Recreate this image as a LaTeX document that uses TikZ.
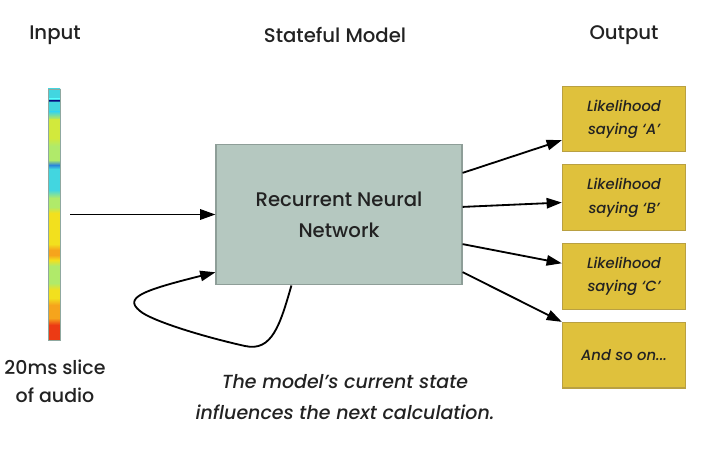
\documentclass[tikz,border=0pt]{standalone}
\usepackage{fontspec}
\setmainfont{Poppins}[UprightFont={* Medium}, ItalicFont={* Medium Italic}]
\usepackage{tikz}
\usetikzlibrary{arrows.meta, positioning, calc}

\definecolor{rnnfill}{HTML}{B5C8C0}
\definecolor{rnnline}{HTML}{8E9E98}
\definecolor{outfill}{HTML}{DFC13C}
\definecolor{outline}{HTML}{B9A042}
\definecolor{txtcol}{HTML}{222222}
\definecolor{barcyan}{HTML}{42D6E0}
\definecolor{bardark}{HTML}{1A4FA0}
\definecolor{barblue}{HTML}{2A86DA}
\definecolor{baryg}{HTML}{D2E93C}
\definecolor{bargreen}{HTML}{B0EA6A}
\definecolor{baryellow}{HTML}{F2E01E}
\definecolor{barorange}{HTML}{F6A41C}
\definecolor{barred}{HTML}{EC3A14}
\definecolor{barframe}{HTML}{8FA8A0}

\begin{document}
\begin{tikzpicture}[
    x=0.025cm, y=-0.025cm,
    title/.style={font=\fontsize{14}{17}\selectfont, text=txtcol},
    rnnbox/.style={draw=rnnline, fill=rnnfill, line width=0.8pt, minimum width=6.15cm, minimum height=3.52cm, align=center, font=\fontsize{14}{22}\selectfont, text=txtcol},
    outbox/.style={draw=outline, fill=outfill, line width=0.8pt, minimum width=3.08cm, minimum height=1.64cm, align=center, font=\itshape\fontsize{10.5}{16.5}\selectfont, text=txtcol},
    arrow/.style={-{Triangle[length=0.38cm,width=0.26cm]}, line width=1.3pt, draw=black}
  ]
    \useasboundingbox (0,0) rectangle (717,453);

    % Titles
    \node[title] (tin) at (55,35) {Input};
    \node[title] (tmodel) at (335,35) {Stateful Model};
    \node[title] (tout) at (624,35) {Output};

    % Audio slice
    \foreach \ya/\ca/\yb/\cb in {89/barcyan/99/barcyan, 99/barcyan/101/bardark, 101/bardark/103/barcyan,
        103/barcyan/112/barcyan, 112/barcyan/120/baryg, 120/baryg/138/baryg, 138/baryg/146/bargreen,
        146/bargreen/160/bargreen, 160/bargreen/165/barblue, 165/barblue/169/barcyan, 169/barcyan/190/barcyan,
        190/barcyan/198/bargreen, 198/bargreen/207/bargreen, 207/bargreen/213/baryellow, 213/baryellow/244/baryellow,
        244/baryellow/250/barorange, 250/barorange/255/barorange, 255/barorange/260/baryellow, 260/baryellow/266/bargreen,
        266/bargreen/283/bargreen, 283/bargreen/290/baryellow, 290/baryellow/298/baryellow, 298/baryellow/305/barorange,
        305/barorange/318/barorange, 318/barorange/325/barred, 325/barred/340/barred}
      \shade[top color=\ca, bottom color=\cb] (48,\ya) rectangle (60,\yb);
    \node[draw=barframe, line width=0.4pt, inner sep=0pt, minimum width=0.3cm, minimum height=6.27cm] (bar) at (54,214.5) {};
    \node[title, align=center, font=\fontsize{13.5}{20}\selectfont] (slice) at (55,381) {20ms slice\\of audio};

    % Model
    \node[rnnbox] (rnn) at (339,214.5) {Recurrent Neural\\Network};
    \node[title, align=center, font=\itshape\fontsize{13.5}{22}\selectfont] (note) at (345,397)
      {The model's current state\\influences the next calculation.};

    % Outputs
    \node[outbox] (out1) at (624,119) {Likelihood\\saying `A'};
    \node[outbox, below=0.3cm of out1] (out2) {Likelihood\\saying `B'};
    \node[outbox, below=0.3cm of out2] (out3) {Likelihood\\saying `C'};
    \node[outbox, below=0.3cm of out3] (out4) {And so on...};

    % Connections
    \draw[arrow] ([xshift=0.25cm]bar.east) -- (rnn.west);
    \draw[arrow] ([xshift=1.9cm]rnn.south west) .. controls (280,325) and (272,352) .. (245,346)
      .. controls (200,336) and (150,320) .. (140,311) .. controls (124,298) and (140,291) .. ([yshift=0.33cm]rnn.south west);
    \draw[arrow] ([yshift=1.04cm]rnn.east) -- ([yshift=-0.53cm]out1.west);
    \draw[arrow] ([yshift=0.19cm]rnn.east) -- ([yshift=-0.12cm]out2.west);
    \draw[arrow] ([yshift=-0.74cm]rnn.east) -- ([yshift=0.33cm]out3.west);
    \draw[arrow] ([yshift=-1.44cm]rnn.east) -- (out4.north west);

  \end{tikzpicture}
\end{document}
